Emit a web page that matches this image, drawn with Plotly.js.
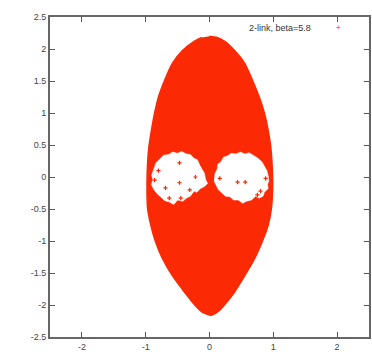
<!DOCTYPE html>
<html>
<head>
<meta charset="utf-8">
<script src="https://cdn.plot.ly/plotly-3.0.1.min.js"></script>
<style>html,body{margin:0;padding:0;background:#fff;}#chart{width:372px;height:358px;}</style>
</head>
<body>
<div id="chart"></div>
<script>
// Outer boundary of the dense red point cloud
const outlineX = [0.00, 0.12, 0.24, 0.39, 0.55, 0.67, 0.78, 0.86, 0.92, 0.96, 0.98, 0.99, 0.97, 0.92, 0.83, 0.71, 0.56, 0.39, 0.25, 0.15, 0.03,
  -0.10, -0.22, -0.39, -0.59, -0.74, -0.85, -0.92, -0.97, -0.98, -0.97, -0.95, -0.91, -0.86, -0.80, -0.70, -0.58, -0.42, -0.24, -0.12];
const outlineY = [2.20, 2.18, 2.12, 1.98, 1.78, 1.52, 1.25, 1.00, 0.73, 0.47, 0.22, -0.12, -0.49, -0.75, -1.00, -1.27, -1.53, -1.80, -1.98, -2.09, -2.16,
  -2.12, -2.01, -1.80, -1.53, -1.27, -1.00, -0.75, -0.49, -0.12, 0.22, 0.47, 0.73, 1.00, 1.25, 1.52, 1.78, 1.98, 2.12, 2.18];

// Empty islands (holes) in the cloud
const holeLeftX = [-0.91,-0.87,-0.84,-0.77,-0.72,-0.64,-0.58,-0.50,-0.44,-0.36,-0.30,-0.24,-0.19,-0.15,-0.12,-0.08,-0.06,-0.03,-0.08,-0.14,-0.20,-0.24,-0.30,-0.36,-0.42,-0.50,-0.56,-0.63,-0.70,-0.76,-0.82,-0.87,-0.91,-0.89];
const holeLeftY = [0.02,0.14,0.22,0.29,0.34,0.35,0.39,0.37,0.40,0.36,0.35,0.29,0.27,0.18,0.12,0.06,-0.04,-0.10,-0.15,-0.18,-0.24,-0.22,-0.30,-0.33,-0.38,-0.36,-0.43,-0.39,-0.37,-0.32,-0.26,-0.20,-0.12,-0.04];
const holeRightX = [0.08,0.12,0.13,0.18,0.22,0.28,0.34,0.42,0.48,0.56,0.62,0.70,0.75,0.82,0.86,0.90,0.92,0.93,0.91,0.92,0.86,0.84,0.78,0.72,0.66,0.58,0.52,0.45,0.38,0.32,0.25,0.20,0.14,0.11,0.07];
const holeRightY = [0.04,0.12,0.20,0.24,0.31,0.33,0.37,0.36,0.39,0.36,0.38,0.33,0.30,0.24,0.16,0.10,0.02,-0.06,-0.12,-0.18,-0.24,-0.30,-0.33,-0.30,-0.36,-0.38,-0.41,-0.36,-0.36,-0.31,-0.30,-0.26,-0.20,-0.14,-0.06];

// Isolated points inside the islands
const strayX = [-0.47, -0.47, -0.69, -0.31, -0.63, -0.45, -0.80, -0.22, 0.44, 0.56, 0.75, 0.80, 0.16, -0.86, 0.88];
const strayY = [0.22, -0.09, -0.17, -0.20, -0.33, -0.33, 0.10, 0.00, -0.08, -0.08, -0.28, -0.22, -0.02, -0.05, -0.02];

const legendName = "2-link, beta=5.8";
const xTicks = [-2, -1, 0, 1, 2];
const yTicks = [-2.5, -2, -1.5, -1, -0.5, 0, 0.5, 1, 1.5, 2, 2.5];

const RED = '#fc2a04';

const traces = [
  {x: outlineX, y: outlineY, mode: 'lines', fill: 'toself', fillcolor: RED,
   line: {color: RED, width: 1.5, shape: 'spline', smoothing: 0.6}, showlegend: false, hoverinfo: 'skip'},
  {x: holeLeftX, y: holeLeftY, mode: 'lines', fill: 'toself', fillcolor: '#ffffff',
   line: {color: '#ffffff', width: 0.5}, showlegend: false, hoverinfo: 'skip'},
  {x: holeRightX, y: holeRightY, mode: 'lines', fill: 'toself', fillcolor: '#ffffff',
   line: {color: '#ffffff', width: 0.5}, showlegend: false, hoverinfo: 'skip'},
  {x: strayX, y: strayY, mode: 'markers', name: legendName,
   marker: {symbol: 'cross-thin', size: 3, line: {color: RED, width: 1.2}, color: RED}, showlegend: false}
];

const axisCommon = {
  showgrid: false, zeroline: false, showline: true, mirror: 'ticks',
  linecolor: '#666', linewidth: 2, ticks: 'inside', ticklen: 5, tickwidth: 1, tickcolor: '#555',
  tickfont: {family: 'Liberation Sans, Arial, sans-serif', size: 9, color: '#444'}
};

const layout = {
  width: 372, height: 358,
  margin: {l: 50, r: 3, t: 17, b: 21, pad: 0},
  paper_bgcolor: '#fff', plot_bgcolor: '#fff',
  showlegend: false,
  xaxis: Object.assign({}, axisCommon, {range: [-2.5, 2.5], tickmode: 'array', tickvals: xTicks, ticktext: xTicks.map(String)}),
  yaxis: Object.assign({}, axisCommon, {range: [-2.5, 2.5], tickmode: 'array', tickvals: yTicks, ticktext: yTicks.map(String)}),
  annotations: [
    {xref: 'paper', yref: 'paper', x: 0.824, y: 0.966, xanchor: 'right', yanchor: 'middle', showarrow: false,
     text: legendName, font: {family: 'Liberation Sans, Arial, sans-serif', size: 9, color: '#333'}},
    {xref: 'paper', yref: 'paper', x: 0.903, y: 0.966, xanchor: 'center', yanchor: 'middle', showarrow: false,
     text: '+', font: {family: 'Liberation Sans, Arial, sans-serif', size: 8, color: RED}}
  ]
};

Plotly.newPlot('chart', traces, layout, {staticPlot: true, displayModeBar: false});
</script>
</body>
</html>
